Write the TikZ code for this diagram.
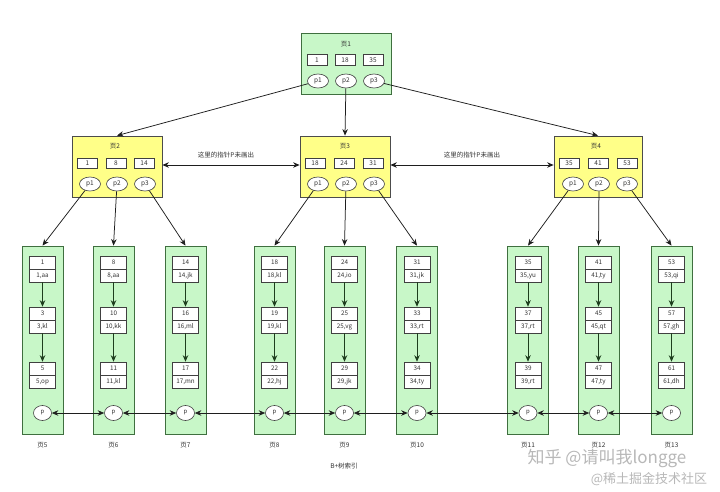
\documentclass[tikz,border=0pt]{standalone}
\usepackage{fontspec}
\setmainfont{Noto Sans CJK SC}
\usetikzlibrary{shapes.geometric,arrows.meta}
\definecolor{lgreen}{HTML}{C8F7C8}
\definecolor{gborder}{HTML}{3F6F3F}
\definecolor{lyellow}{HTML}{FFFF88}
\definecolor{ink}{HTML}{333333}
\definecolor{arrowc}{HTML}{1E1E1E}
\definecolor{garrow}{HTML}{1E3E1E}
\tikzset{
  greenpage/.style={draw=gborder, line width=0.8pt, fill=lgreen, minimum width=90pt, minimum height=61pt, inner sep=0pt},
  yellowpage/.style={draw=black!70, line width=0.8pt, fill=lyellow, minimum width=#1, minimum height=61pt, inner sep=0pt},
  keybox/.style={draw=black!75, fill=white, line width=0.6pt, minimum width=20pt, minimum height=10.5pt, inner sep=0pt, font=\fontsize{6.5}{6.5}\selectfont, text=ink},
  ptr/.style={ellipse, draw=black!75, fill=white, line width=0.6pt, minimum width=21pt, minimum height=14pt, inner sep=0pt, font=\fontsize{6.5}{6.5}\selectfont, text=ink},
  leafbox/.style={draw=gborder, fill=lgreen, line width=0.8pt, minimum width=41pt, minimum height=188pt, inner sep=0pt},
  recpart/.style={draw=black!75, fill=white, line width=0.6pt, minimum width=26pt, minimum height=13pt, inner sep=0pt, font=\fontsize{6.3}{6.3}\selectfont, text=ink},
  leafptr/.style={ellipse, draw=black!75, fill=white, line width=0.6pt, minimum width=18pt, minimum height=15pt, inner sep=0pt, font=\fontsize{6}{6}\selectfont, text=ink},
  arr/.style={-{Stealth[length=6.5pt,width=5.5pt]}, draw=arrowc, line width=0.75pt},
  garr/.style={-{Stealth[length=6.5pt,width=5.5pt]}, draw=garrow, line width=0.75pt},
  darr/.style={{Stealth[length=6.5pt,width=5.5pt]}-{Stealth[length=6.5pt,width=5.5pt]}, draw=arrowc, line width=0.75pt},
  lbl/.style={font=\fontsize{6.5}{6.5}\selectfont, text=ink, inner sep=0pt},
}
\newcommand\leafcol[9]{%
  \node[leafbox] (L#1) at (#2,340) {};
  \node[recpart] (k#1a) at (#2,262.5) {#3};
  \node[recpart] (v#1a) at (#2,275.5) {#4};
  \node[recpart] (k#1b) at (#2,313.5) {#5};
  \node[recpart] (v#1b) at (#2,326.5) {#6};
  \node[recpart] (k#1c) at (#2,368.5) {#7};
  \node[recpart] (v#1c) at (#2,381.5) {#8};
  \node[leafptr] (q#1) at (#2,413) {p};
  \node[lbl] (t#1) at (#2,445) {#9};
  \draw[garr] (v#1a.south) -- (k#1b.north);
  \draw[garr] (v#1b.south) -- (k#1c.north);
}
\begin{document}
\begin{tikzpicture}[x=1pt,y=-1pt]
\useasboundingbox (0,0) rectangle (720,491);
\fill[white] (0,0) rectangle (720,491);
% page 1
\node[greenpage] (P1) at (346,64) {};
\node[lbl] (P1t) at (346,44) {页1};
\node[keybox] (P1k1) at (317,60) {1};
\node[keybox] (P1k2) at (345,60) {18};
\node[keybox] (P1k3) at (373,60) {35};
\node[ptr] (P1p1) at (318,81) {p1};
\node[ptr] (P1p2) at (346,81) {p2};
\node[ptr] (P1p3) at (374,81) {p3};
% page 2
\node[yellowpage=90pt] (P2) at (117,166.5) {};
\node[lbl] (P2t) at (115,146) {页2};
\node[keybox] (P2k1) at (87.5,163.5) {1};
\node[keybox] (P2k2) at (116,163.5) {8};
\node[keybox] (P2k3) at (144,163.5) {14};
\node[ptr] (P2p1) at (90,184) {p1};
\node[ptr] (P2p2) at (117,184) {p2};
\node[ptr] (P2p3) at (145,184) {p3};
% page 3
\node[yellowpage=90pt] (P3) at (345,166.5) {};
\node[lbl] (P3t) at (345,146) {页3};
\node[keybox] (P3k1) at (315,163.5) {18};
\node[keybox] (P3k2) at (344,163.5) {24};
\node[keybox] (P3k3) at (373,163.5) {31};
\node[ptr] (P3p1) at (318,184) {p1};
\node[ptr] (P3p2) at (346,184) {p2};
\node[ptr] (P3p3) at (374,184) {p3};
% page 4
\node[yellowpage=88pt] (P4) at (598,166.5) {};
\node[lbl] (P4t) at (596,146) {页4};
\node[keybox] (P4k1) at (569,163.5) {35};
\node[keybox] (P4k2) at (598,163.5) {41};
\node[keybox] (P4k3) at (627,163.5) {53};
\node[ptr] (P4p1) at (573,184) {p1};
\node[ptr] (P4p2) at (599,184) {p2};
\node[ptr] (P4p3) at (627,184) {p3};
% links between internal pages
\draw[darr] (P2.east |- 0,165) coordinate (a23) -- (P3.west |- 0,165) coordinate (b23);
\draw[darr] (P3.east |- 0,165) coordinate (a34) -- (P4.west |- 0,165) coordinate (b34);
\node[lbl] (n23) at (226,155) {这里的指针P未画出};
\node[lbl] (n34) at (472,155) {这里的指针P未画出};
% root pointers
\draw[arr] (P1p1) -- (P2.north);
\draw[arr] (P1p2) -- (P3.north);
\draw[arr] (P1p3) -- (P4.north);
% leaves
\leafcol{5}{42.5}{1}{1,aa}{3}{3,kl}{5}{5,op}{页5}
\leafcol{6}{113.5}{8}{8,aa}{10}{10,kk}{11}{11,kl}{页6}
\leafcol{7}{185.5}{14}{14,jk}{16}{16,ml}{17}{17,mn}{页7}
\leafcol{8}{274.5}{18}{18,kl}{19}{19,kl}{22}{22,hj}{页8}
\leafcol{9}{344.5}{24}{24,io}{25}{25,vg}{29}{29,jk}{页9}
\leafcol{10}{417}{31}{31,jk}{33}{33,rt}{34}{34,ty}{页10}
\leafcol{11}{528}{35}{35,yu}{37}{37,rt}{39}{39,rt}{页11}
\leafcol{12}{598.5}{41}{41,ty}{45}{45,qt}{47}{47,ty}{页12}
\leafcol{13}{671.5}{53}{53,qi}{57}{57,gh}{61}{61,dh}{页13}
% internal to leaf pointers
\draw[arr] (P2p1) -- (L5.north);
\draw[arr] (P2p2) -- (L6.north);
\draw[arr] (P2p3) -- (L7.north);
\draw[arr] (P3p1) -- (L8.north);
\draw[arr] (P3p2) -- (L9.north);
\draw[arr] (P3p3) -- (L10.north);
\draw[arr] (P4p1) -- (L11.north);
\draw[arr] (P4p2) -- (L12.north);
\draw[arr] (P4p3) -- (L13.north);
% leaf chain
\draw[darr] (q5) -- (q6);
\draw[darr] (q6) -- (q7);
\draw[darr] (q7) -- (q8);
\draw[darr] (q8) -- (q9);
\draw[darr] (q9) -- (q10);
\draw[darr] (q10) -- (q11);
\draw[darr] (q11) -- (q12);
\draw[darr] (q12) -- (q13);
\node[lbl] (title) at (344,466) {B+树索引};
% watermark
\node[text=black!28, font=\fontsize{17}{17}\selectfont, inner sep=0pt] (wm1) at (607,458) {知乎 @请叫我longge};
\node[text=black!28, font=\fontsize{13}{13}\selectfont, inner sep=0pt] (wm2) at (649,479) {@稀土掘金技术社区};
\end{tikzpicture}
\end{document}
